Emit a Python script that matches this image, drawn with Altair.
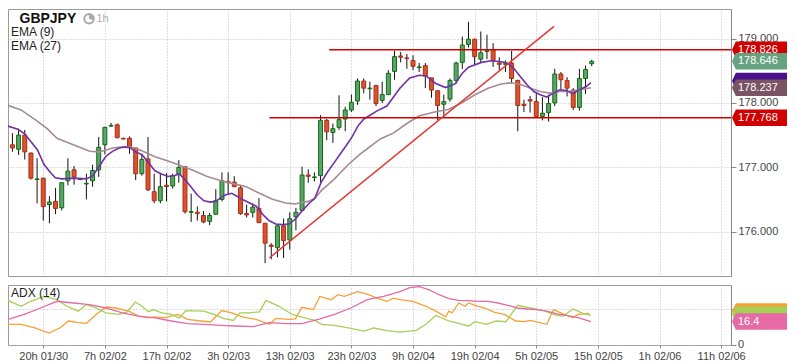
import altair as alt
import pandas as pd

# ---------------- data ----------------
candle_idx = list(range(-5, 90))
opens = [177.35, 177.28, 177.50, 177.22, 176.81, 176.83, 176.42, 176.47, 176.37, 176.79,
         176.96, 176.81, 176.74, 176.79, 176.96, 177.35, 177.64, 177.66, 177.45, 177.45,
         177.30, 176.90, 177.13, 176.62, 176.48, 176.72, 176.71, 176.89, 177.01, 176.30,
         176.30, 176.25, 176.16, 176.27, 176.50, 176.78, 176.77, 176.68, 176.28, 176.30,
         176.36, 176.13, 175.79, 175.75, 176.09, 175.87, 176.23, 176.33, 176.88, 176.84,
         176.87, 177.73, 177.54, 177.62, 177.75, 177.89, 178.03, 178.34, 178.22, 178.27,
         178.04, 178.13, 178.49, 178.73, 178.70, 178.66, 178.55, 178.58, 178.39, 178.19,
         177.98, 178.06, 178.35, 178.63, 178.91, 178.99, 178.68, 178.80, 178.83, 178.62,
         178.60, 178.62, 178.35, 177.98, 178.05, 178.02, 177.79, 177.85, 178.00, 178.45,
         178.35, 178.20, 177.93, 178.38, 178.61]
highs = [177.53, 177.60, 177.58, 177.23, 177.14, 176.84, 176.55, 176.68, 176.77, 177.14,
         177.02, 176.83, 176.90, 177.04, 177.47, 177.63, 177.69, 177.68, 177.46, 177.48,
         177.30, 177.20, 177.47, 176.90, 176.90, 176.91, 176.90, 177.11, 177.02, 176.59,
         176.39, 176.32, 176.29, 176.66, 176.92, 176.92, 176.86, 176.72, 176.42, 176.44,
         176.52, 176.13, 175.82, 176.10, 176.20, 176.30, 176.37, 177.01, 176.97, 176.92,
         177.81, 177.75, 177.68, 178.12, 177.94, 178.13, 178.38, 178.38, 178.33, 178.28,
         178.33, 178.51, 178.81, 178.79, 178.76, 178.74, 178.62, 178.62, 178.39, 178.20,
         178.13, 178.38, 178.64, 179.03, 179.26, 179.00, 179.11, 179.06, 178.93, 178.71,
         178.66, 178.81, 178.36, 178.05, 178.11, 178.15, 178.09, 178.13, 178.53, 178.48,
         178.40, 178.23, 178.53, 178.58, 178.67]
lows = [177.24, 177.19, 177.12, 176.81, 176.44, 176.17, 176.13, 176.27, 176.33, 176.72,
        176.73, 176.80, 176.50, 176.70, 176.85, 177.20, 177.63, 177.45, 177.43, 177.21,
        176.80, 176.87, 176.63, 176.44, 176.44, 176.47, 176.67, 176.76, 176.28, 176.15,
        176.17, 176.13, 176.10, 176.26, 176.47, 176.58, 176.69, 176.26, 176.22, 176.22,
        176.13, 175.51, 175.57, 175.60, 175.59, 175.72, 176.02, 176.32, 176.76, 176.78,
        176.76, 177.42, 177.38, 177.58, 177.56, 177.86, 177.97, 178.15, 178.05, 177.95,
        178.00, 178.12, 178.36, 178.63, 178.53, 178.51, 178.48, 178.23, 178.08, 177.73,
        177.78, 178.02, 178.30, 178.53, 178.86, 178.60, 178.63, 178.68, 178.56, 178.51,
        178.48, 178.30, 177.56, 177.86, 177.85, 177.78, 177.73, 177.71, 177.95, 178.20,
        178.10, 177.89, 177.88, 178.14, 178.57]
closes = [177.30, 177.50, 177.24, 176.83, 176.82, 176.39, 176.46, 176.36, 176.76, 176.94,
          176.85, 176.82, 176.75, 176.95, 177.31, 177.62, 177.65, 177.46, 177.44, 177.31,
          176.90, 177.12, 176.65, 176.48, 176.70, 176.70, 176.87, 177.00, 176.31, 176.31,
          176.28, 176.15, 176.25, 176.48, 176.79, 176.76, 176.70, 176.28, 176.26, 176.38,
          176.14, 175.82, 175.77, 176.09, 175.86, 176.20, 176.30, 176.88, 176.86, 176.85,
          177.73, 177.55, 177.60, 177.74, 177.89, 178.01, 178.34, 178.23, 178.23, 177.99,
          178.13, 178.46, 178.72, 178.71, 178.69, 178.57, 178.56, 178.42, 178.20, 177.96,
          178.02, 178.35, 178.62, 178.90, 178.99, 178.72, 178.78, 178.81, 178.66, 178.60,
          178.61, 178.38, 177.96, 177.96, 178.03, 177.79, 177.84, 177.99, 178.45, 178.36,
          178.23, 177.93, 178.38, 178.52, 178.646]

ema9_pos = [-5.72, -4.13, -3.07, -2.02, -0.95, 0.11, 1.16, 1.96, 3.02, 4.88, 7.0, 8.06, 9.11,
            10.17, 11.24, 12.29, 13.35, 14.15, 14.94, 16.0, 17.06, 18.12, 19.19, 20.24, 21.30,
            22.10, 22.89, 23.96, 25.0, 26.07, 27.14, 27.93, 28.73, 29.52, 30.57, 31.37, 32.43,
            33.50, 34.55, 35.61, 36.68, 37.73, 38.79, 39.86, 40.91, 41.97, 43.04, 44.07, 45.07,
            46.07, 47.07, 48.08, 49.08, 50.08, 51.08, 52.03, 54.17, 55.76, 57.87, 59.46, 61.05,
            62.11, 63.70, 65.29, 66.88, 67.93, 69.0, 71.11, 72.70, 74.29, 75.36, 76.42, 77.47,
            78.54, 79.60, 80.65, 81.72, 82.78, 83.83, 84.90, 85.96, 87.01, 88.08, 88.87]
ema9_val = [177.64, 177.59, 177.525, 177.40, 177.273, 177.047, 176.92, 176.836, 176.82, 176.832,
            176.82, 176.87, 177.02, 177.172, 177.248, 177.30, 177.314, 177.30, 177.239, 177.198,
            177.073, 176.946, 176.896, 176.856, 176.871, 176.896, 176.82, 176.696, 176.569, 176.479,
            176.459, 176.47, 176.52, 176.569, 176.595, 176.554, 176.494, 176.444, 176.394, 176.268,
            176.168, 176.117, 176.108, 176.117, 176.192, 176.319, 176.429, 176.519, 176.761, 176.918,
            177.053, 177.19, 177.326, 177.469, 177.644, 177.751, 177.877, 177.952, 178.228, 178.389,
            178.43, 178.42, 178.303, 178.239, 178.30, 178.454, 178.555, 178.63, 178.656, 178.641,
            178.616, 178.53, 178.404, 178.279, 178.178, 178.128, 178.092, 178.153, 178.204, 178.193,
            178.144, 178.204, 178.254, 178.314]

ema27_pos = [-5.72, -3.61, -1.48, 0.64, 2.23, 4.88, 7.52, 9.11, 11.24, 13.35, 14.94, 16.53, 18.12,
             20.24, 22.37, 24.48, 26.60, 28.73, 30.84, 32.96, 35.09, 37.20, 39.32, 40.91, 41.97,
             43.04, 44.09, 45.15, 46.22, 47.27, 48.33, 49.40, 50.45, 51.51, 52.58, 53.62, 54.69,
             55.76, 56.80, 58.93, 61.05, 63.70, 65.82, 67.93, 70.06, 72.18, 74.29, 75.88, 77.47,
             79.06, 80.65, 82.24, 83.83, 85.42, 87.01, 88.87]
ema27_val = [177.963, 177.892, 177.751, 177.601, 177.45, 177.349, 177.248, 177.239, 177.30, 177.323,
             177.30, 177.233, 177.163, 177.097, 177.022, 176.946, 176.856, 176.795, 176.746, 176.696,
             176.595, 176.504, 176.444, 176.429, 176.455, 176.47, 176.52, 176.64, 176.73, 176.82,
             176.927, 177.032, 177.123, 177.213, 177.288, 177.364, 177.44, 177.485, 177.53, 177.676,
             177.801, 177.862, 177.902, 178.002, 178.128, 178.228, 178.294, 178.314, 178.288, 178.228,
             178.178, 178.153, 178.178, 178.178, 178.204, 178.237]

adx_pos = [-5.72, -3.07, -0.43, 2.23, 4.88, 7.52, 10.17, 12.83, 15.47, 18.12, 20.78, 23.42, 26.07,
           28.73, 31.37, 34.02, 36.68, 39.32, 41.97, 44.63, 47.27, 49.92, 52.58, 55.22, 57.87, 59.46,
           61.05, 62.64, 64.23, 65.82, 67.41, 69.0, 70.59, 72.18, 73.77, 75.36, 76.95, 78.54, 80.13,
           81.72, 83.31, 84.90, 86.49, 88.87]
adx_val = [17.9, 21.4, 25.9, 30.6, 29.4, 28.3, 25.9, 22.5, 20.2, 19.0, 16.8, 14.9, 14.5, 13.8, 13.3,
           12.8, 15.6, 14.9, 14.9, 17.9, 21.4, 25.9, 31.7, 34.0, 37.4, 40.2, 40.9, 38.6, 35.2, 32.4,
           31.2, 31.0, 30.6, 30.6, 29.4, 27.8, 25.9, 25.2, 24.8, 23.7, 21.8, 20.7, 19.5, 16.4]

pdi_pos = [-5.72, -3.61, -2.02, 0.11, 2.23, 3.82, 5.68, 7.0, 8.59, 10.17, 12.29, 13.62, 14.94, 16.01,
           17.06, 17.85, 19.19, 20.78, 22.10, 23.16, 26.07, 27.66, 29.25, 30.84, 31.91, 33.50, 35.09,
           36.14, 38.27, 40.38, 41.97, 44.09, 45.15, 47.27, 49.92, 52.03, 53.62, 55.76, 57.87, 60.52,
           62.11, 63.70, 65.82, 67.41, 69.0, 70.06, 71.91, 73.50, 75.09, 76.95, 79.06, 81.19, 83.31,
           84.37, 85.96, 87.55, 88.87]
pdi_val = [31.2, 27.1, 30.6, 34.0, 31.7, 27.1, 23.7, 28.3, 25.9, 22.5, 21.4, 23.2, 30.1, 27.1, 23.2,
           24.8, 22.5, 21.4, 19.0, 24.1, 23.7, 21.4, 18.6, 17.2, 22.5, 22.5, 23.2, 31.2, 27.1, 21.4,
           19.5, 17.2, 14.5, 13.8, 11.7, 9.7, 11.9, 10.1, 9.0, 10.3, 14.5, 20.7, 16.8, 15.2, 13.3,
           16.3, 14.5, 16.8, 16.3, 27.8, 25.9, 24.1, 20.7, 20.2, 25.2, 22.1, 20.7]

mdi_pos = [-5.72, -3.61, -1.48, 0.91, 2.75, 4.09, 5.68, 7.0, 8.59, 10.17, 11.76, 13.88, 15.47, 17.06,
           18.12, 19.71, 21.83, 23.42, 25.54, 27.14, 28.98, 30.84, 32.43, 34.55, 36.68, 37.73, 39.86,
           40.91, 41.97, 43.83, 44.88, 46.74, 47.80, 48.86, 50.99, 52.58, 54.17, 55.76, 56.80, 57.87,
           59.98, 62.11, 63.70, 65.29, 65.82, 66.34, 67.41, 68.47, 69.0, 70.06, 71.65, 73.24, 74.83,
           76.68, 78.01, 79.06, 81.72, 82.78, 84.90, 85.96, 86.76, 88.60]
mdi_val = [14.5, 14.5, 12.1, 8.3, 12.1, 16.8, 15.6, 15.2, 21.4, 26.6, 25.9, 23.7, 20.2, 19.0, 19.7,
           19.0, 21.4, 17.9, 16.8, 16.1, 24.1, 22.1, 19.5, 17.9, 14.5, 18.6, 17.9, 18.3, 26.4, 24.8,
           34.0, 31.7, 35.2, 34.0, 37.4, 35.6, 32.8, 30.6, 32.8, 31.7, 30.6, 27.1, 23.7, 19.7, 23.7,
           22.5, 29.4, 27.1, 29.4, 27.8, 25.9, 22.8, 21.4, 16.8, 16.3, 17.2, 14.5, 24.8, 20.7, 19.0,
           21.4, 22.1]

x_ticks = [0, 10, 20, 30, 40, 50, 60, 70, 80, 90, 100, 110]
x_labels = ["20h 01/30", "7h 02/02", "17h 02/02", "3h 02/03", "13h 02/03", "23h 02/03",
            "9h 02/04", "19h 02/04", "5h 02/05", "15h 02/05", "1h 02/06", "11h 02/06"]
price_ticks = [176, 177, 178, 179]
adx_label_vals = [0]
adx_label_texts = ["0"]

level_prices = [178.826, 177.768]
level_start = [46.4, 36.7]
trend_x = [36.68, 82.88]
trend_p = [175.59, 179.19]

tag_prices = [178.826, 178.646, 178.34, 178.237, 177.768]
tag_texts = ["178.826", "178.646", "", "178.237", "177.768"]
tag_colors = ["#d10000", "#66a27f", "#4a128a", "#7a5365", "#d10000"]

adx_tag_vals = [23.4, 21.2, 16.4]
adx_tag_texts = ["", "", "16.4"]
adx_series = ["-DI", "+DI", "ADX"]
adx_colors = ["#f7a035", "#a5cf55", "#e56aa6"]

# ---------------- layout / style ----------------
FONT = "Liberation Sans"
W, H_MAIN, H_ADX = 723, 267, 60
X_DOMAIN = [-5.72, 111.6]
PRICE_DOMAIN = [175.31, 179.46]
ADX_DOMAIN = [0, 42]
GRID = dict(grid=True, gridColor="#bdbdbd", gridDash=[1, 2], gridWidth=1)
G_FILL, G_STROKE = "#5ca46c", "#0e6e12"
R_FILL, R_STROKE = "#d9532c", "#ad2c18"
TAG_SHAPE = "M -1 0 L -0.86 -0.3 L 1 -0.3 L 1 0.3 L -0.86 0.3 Z"
TAG_SIZE = 3025
TAG_X = 751.5
TAG_TEXT_X = 730

xs = alt.Scale(domain=X_DOMAIN, nice=False, zero=False)
ys = alt.Scale(domain=PRICE_DOMAIN, nice=False, zero=False)
ads = alt.Scale(domain=ADX_DOMAIN, nice=False, zero=False)

main_x_axis = alt.Axis(values=x_ticks, labels=False, ticks=False, domain=False, title=None, **GRID)
main_y_axis = alt.Axis(orient="right", values=price_ticks, format=".3f", title=None,
                       labelFont=FONT, labelFontSize=11, labelColor="#444", tickSize=5,
                       tickColor="#888", labelPadding=2, domainColor="#888", **GRID)
label_expr = "[" + ",".join(f"'{s}'" for s in x_labels) + "][round(datum.value / 10)]"
adx_x_axis = alt.Axis(values=x_ticks, labelExpr=label_expr, title=None, labelFont=FONT,
                      labelFontSize=11, labelColor="#444", tickSize=3, tickColor="#888",
                      labelPadding=2, domain=False, labelFlush=False, labelOverlap=False, **GRID)
adx_y_axis = alt.Axis(orient="right", values=[0, 25], labels=False, title=None, tickSize=5,
                      tickColor="#888", domainColor="#888", **GRID)


def mx(f):
    return alt.X(f"{f}:Q", scale=xs, axis=main_x_axis)


def my(f):
    return alt.Y(f"{f}:Q", scale=ys, axis=main_y_axis)


def ax(f):
    return alt.X(f"{f}:Q", scale=xs, axis=adx_x_axis)


def ay(f):
    return alt.Y(f"{f}:Q", scale=ads, axis=adx_y_axis)


def one():
    return pd.DataFrame({"k": [0]})


def label(text, x, y, size=12, color="#222", weight="normal"):
    return alt.Chart(one()).mark_text(text=text, font=FONT, fontSize=size, color=color,
                                      fontWeight=weight, align="left", baseline="middle").encode(
        x=alt.value(x), y=alt.value(y))


candles = pd.DataFrame({"i": candle_idx, "o": opens, "h": highs, "l": lows, "c": closes})
up = "datum.c >= datum.o"

wicks = alt.Chart(candles).mark_rule(color="#111", strokeWidth=1).encode(
    x=mx("i"), y=my("l"), y2="h")
bodies = alt.Chart(candles).transform_calculate(
    x0="datum.i - 0.32", x1="datum.i + 0.32").mark_rect(strokeWidth=1).encode(
    x=mx("x0"), x2="x1", y=my("o"), y2="c",
    fill=alt.condition(up, alt.value(G_FILL), alt.value(R_FILL)),
    stroke=alt.condition(up, alt.value(G_STROKE), alt.value(R_STROKE)))

ema27 = alt.Chart(pd.DataFrame({"i": ema27_pos, "p": ema27_val})).mark_line(
    color="#a58b92", strokeWidth=1.6).encode(x=mx("i"), y=my("p"))
ema9 = alt.Chart(pd.DataFrame({"i": ema9_pos, "p": ema9_val})).mark_line(
    color="#7030a8", strokeWidth=1.6).encode(x=mx("i"), y=my("p"))

levels = alt.Chart(pd.DataFrame({"p": level_prices, "x0": level_start,
                                 "x1": [X_DOMAIN[1]] * len(level_prices)})).mark_rule(
    color="#d40000", strokeWidth=1.5).encode(x=mx("x0"), x2="x1", y=my("p"))
trend = alt.Chart(pd.DataFrame({"x0": [trend_x[0]], "x1": [trend_x[1]],
                                "p0": [trend_p[0]], "p1": [trend_p[1]]})).mark_rule(
    color="#e53935", strokeWidth=1.5).encode(x=mx("x0"), x2="x1", y=my("p0"), y2="p1")

t_clock = alt.Chart(one()).mark_point(shape="circle", filled=False, size=90, stroke="#a8a8a8",
                                      strokeWidth=2, opacity=1).encode(
    x=alt.value(81), y=alt.value(9.7))
t_clock2 = alt.Chart(one()).mark_arc(radius=4, theta=0, theta2=1.9, color="#a8a8a8").encode(
    x=alt.value(81), y=alt.value(9.7))

main_layers = [wicks, bodies, ema27, ema9, levels, trend,
               label("GBPJPY", 11.5, 9.7, size=14, color="#111", weight="bold"),
               t_clock, t_clock2,
               label("1h", 88.5, 9.7, size=11, color="#aaaaaa"),
               label("EMA (9)", 3, 23.3),
               label("EMA (27)", 3, 37.2)]
for p, txt, col in zip(tag_prices, tag_texts, tag_colors):
    d = pd.DataFrame({"p": [p], "t": [txt]})
    main_layers.append(alt.Chart(d).mark_point(shape=TAG_SHAPE, filled=True, size=TAG_SIZE,
                                               color=col, opacity=1, strokeWidth=0).encode(
        x=alt.value(TAG_X), y=my("p")))
    main_layers.append(alt.Chart(d).mark_text(font=FONT, fontSize=11, color="white",
                                              align="left", baseline="middle").encode(
        x=alt.value(TAG_TEXT_X), y=my("p"), text="t:N"))

main = alt.layer(*main_layers).properties(width=W, height=H_MAIN)

# ---------------- ADX panel ----------------
adx_df = pd.concat([
    pd.DataFrame({"i": mdi_pos, "v": mdi_val, "s": "-DI"}),
    pd.DataFrame({"i": pdi_pos, "v": pdi_val, "s": "+DI"}),
    pd.DataFrame({"i": adx_pos, "v": adx_val, "s": "ADX"}),
])
adx_lines = alt.Chart(adx_df).mark_line(strokeWidth=1.3).encode(
    x=ax("i"), y=ay("v"),
    color=alt.Color("s:N", scale=alt.Scale(domain=adx_series, range=adx_colors), legend=None),
    detail="s:N")
adx_ylabels = alt.Chart(pd.DataFrame({"v": adx_label_vals, "t": adx_label_texts})).mark_text(
    font=FONT, fontSize=11, color="#444", align="left", baseline="middle").encode(
    x=alt.value(W + 7), y=ay("v"), text="t:N")

adx_layers = [adx_lines, adx_ylabels, label("ADX (14)", 3, 8.1)]
for v, txt, col in zip(adx_tag_vals, adx_tag_texts, adx_colors):
    d = pd.DataFrame({"v": [v], "t": [txt]})
    adx_layers.append(alt.Chart(d).mark_point(shape=TAG_SHAPE, filled=True, size=TAG_SIZE,
                                              color=col, opacity=1, strokeWidth=0).encode(
        x=alt.value(TAG_X), y=ay("v")))
    adx_layers.append(alt.Chart(d).mark_text(font=FONT, fontSize=11, color="white",
                                             align="left", baseline="middle").encode(
        x=alt.value(TAG_TEXT_X), y=ay("v"), text="t:N"))

adx = alt.layer(*adx_layers).properties(width=W, height=H_ADX)

# negative left padding cancels the invisible stroke-miter overhang of the lines at x = 0
chart = alt.vconcat(main, adx, spacing=6).properties(
    padding={"left": -4, "right": 0, "top": 0, "bottom": 0},
    background="white",
).configure_view(stroke="#9a9a9a", strokeWidth=1)

chart.save("out.html", embed_options={"renderer": "svg", "actions": False})
